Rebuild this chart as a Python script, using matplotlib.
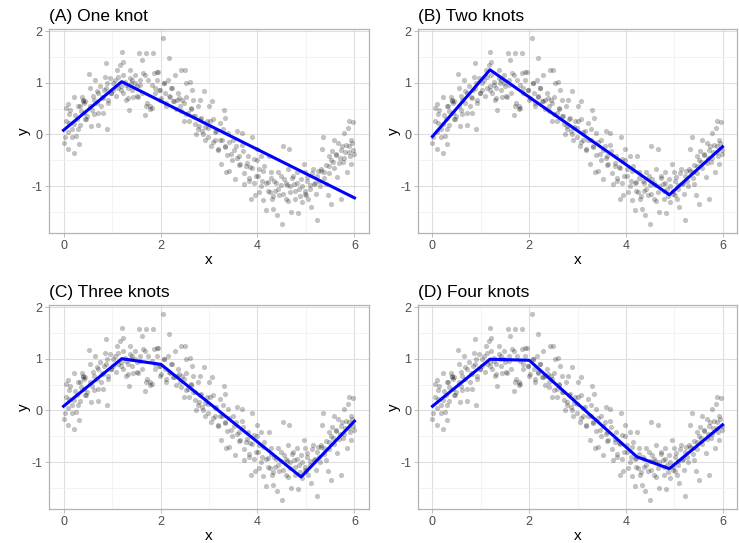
import matplotlib

matplotlib.use("Agg")
import matplotlib.pyplot as plt
from matplotlib.ticker import MultipleLocator

plt.rcParams["font.family"] = ["Liberation Sans", "DejaVu Sans"]
plt.rcParams["axes.unicode_minus"] = False

x_obs = [
    0.00, 0.02, 0.05, 0.09, 0.10, 0.12, 0.14, 0.17, 0.21, 0.22, 0.24, 0.26, 0.29, 0.31, 0.33, 0.34, 0.38, 0.41, 0.42, 0.45, 0.47, 0.49,
    0.53, 0.55, 0.56, 0.58, 0.62, 0.65, 0.68, 0.71, 0.72, 0.75, 0.79, 0.81, 0.84, 0.86, 0.88, 0.89, 0.90, 0.92, 0.96, 0.98,
    1.03, 1.06, 1.10, 1.13, 1.16, 1.18, 1.20, 1.22, 1.23, 1.27, 1.29, 1.32, 1.34, 1.37, 1.39, 1.42, 1.44, 1.47,
    1.51, 1.54, 1.56, 1.58, 1.61, 1.64, 1.68, 1.70, 1.71, 1.75, 1.78, 1.82, 1.85, 1.86, 1.88, 1.92, 1.95, 1.97, 1.99,
    2.05, 2.07, 2.09, 2.12, 2.16, 2.18, 2.19, 2.23, 2.26, 2.29, 2.33, 2.36, 2.40, 2.43, 2.45, 2.48, 2.50,
    2.52, 2.53, 2.57, 2.60, 2.62, 2.64, 2.67, 2.71, 2.74, 2.77, 2.79, 2.81, 2.84, 2.86, 2.89, 2.91, 2.95, 2.98,
    3.01, 3.05, 3.07, 3.08, 3.12, 3.15, 3.18, 3.22, 3.25, 3.27, 3.30, 3.32, 3.34, 3.36, 3.39, 3.42, 3.46, 3.49,
    3.53, 3.56, 3.58, 3.62, 3.64, 3.68, 3.70, 3.73, 3.77, 3.80, 3.82, 3.85, 3.87, 3.89, 3.92, 3.94, 3.97, 3.99,
    4.03, 4.04, 4.08, 4.10, 4.12, 4.14, 4.18, 4.21, 4.23, 4.26, 4.28, 4.30, 4.33, 4.35, 4.37, 4.40, 4.42, 4.45, 4.49,
    4.51, 4.52, 4.55, 4.58, 4.60, 4.62, 4.66, 4.67, 4.69, 4.73, 4.76, 4.78, 4.81, 4.83, 4.86, 4.90, 4.92, 4.95, 4.97, 4.99,
    5.01, 5.03, 5.05, 5.08, 5.10, 5.14, 5.17, 5.21, 5.22, 5.24, 5.27, 5.31, 5.33, 5.36, 5.38, 5.41, 5.45, 5.47, 5.48,
    5.51, 5.53, 5.56, 5.58, 5.62, 5.65, 5.67, 5.70, 5.72, 5.74, 5.77, 5.79, 5.81, 5.84, 5.86, 5.88, 5.89, 5.90, 5.92, 5.95, 5.97, 5.99,
    0.05, 0.10, 0.12, 0.18, 0.22, 0.28, 0.30, 0.35, 0.40, 0.42, 0.45, 0.55, 0.60, 0.62, 0.68, 0.72, 0.78, 0.82, 0.88, 0.92,
    0.98, 1.02, 1.08, 1.12, 1.18, 1.22, 1.28, 1.32, 1.38, 1.42, 1.48, 1.52, 1.58, 1.62, 1.68, 1.72, 1.78, 1.82, 1.88, 1.92,
    1.98, 2.02, 2.08, 2.12, 2.18, 2.22, 2.28, 2.32, 2.38, 2.42, 2.48, 2.52, 2.58, 2.62, 2.68, 2.72, 2.78, 2.82, 2.88, 2.92,
    2.98, 3.02, 3.08, 3.12, 3.18, 3.22, 3.28, 3.32, 3.38, 3.42, 3.48, 3.52, 3.58, 3.62, 3.68, 3.72, 3.78, 3.82, 3.88, 3.92,
    3.98, 4.02, 4.08, 4.12, 4.18, 4.22, 4.28, 4.32, 4.38, 4.42, 4.48, 4.52, 4.58, 4.62, 4.68, 4.72, 4.78, 4.82, 4.88, 4.92,
    4.98, 5.02, 5.08, 5.12, 5.18, 5.22, 5.28, 5.32, 5.38, 5.42, 5.48, 5.52, 5.58, 5.62, 5.68, 5.72, 5.78, 5.82, 5.88, 5.92, 5.98,
]
y_obs = [
    -0.16, -0.05, 0.51, 0.58, -0.29, 0.22, 0.48, 0.10, 0.72, -0.37, 0.38, -0.03, 0.11, -0.19, 0.54, 0.19, 0.73, 0.67, 0.42, 0.64, 0.29, 0.35,
    1.17, 0.89, 0.16, 0.48, 0.67, 1.05, 0.83, 0.19, 0.42, 0.93, 0.73, 0.42, 0.86, 1.12, 1.39, 0.10, 0.99, 0.67, 1.09, 0.80,
    0.86, 1.05, 1.25, 1.12, 1.34, 0.93, 1.60, 1.41, 0.80, 1.02, 0.67, 0.89, 0.48, 1.25, 0.99, 1.05, 0.73, 1.15,
    0.93, 0.73, 1.57, 1.05, 1.44, 1.18, 0.38, 1.57, 0.54, 1.05, 0.54, 0.51, 1.58, 1.18, 0.89, 1.05, 1.21, 0.86, 0.67,
    1.87, 0.99, 0.80, 0.54, 1.05, 1.47, 0.73, 0.89, 0.64, 1.15, 0.67, 0.80, 0.54, 1.25, 0.67, 0.26, 1.25,
    0.73, 0.99, 0.42, 1.02, 0.51, 0.86, 0.67, 0.35, 0.00, 0.54, 0.16, 0.67, 0.32, 0.06, 0.83, -0.10, 0.26, 0.13,
    0.54, -0.22, 0.64, 0.29, -0.10, 0.06, -0.29, 0.22, -0.58, -0.10, 0.48, -0.22, 0.32, -0.73, 0.03, -0.70, -0.38, -0.10,
    -0.86, -0.22, 0.06, -0.42, -0.58, 0.03, -0.32, -0.96, -0.61, -0.42, -0.90, -0.64, -1.25, -0.06, -0.48, -1.18, -0.80, -0.29,
    -0.67, -1.12, -0.42, -0.90, -1.28, -0.61, -1.47, -0.93, -0.42, -1.12, -0.73, -1.25, -1.44, -0.90, -1.09, -1.57, -0.73, -1.18, -0.99,
    -1.73, -0.22, -0.86, -1.25, -0.99, -0.67, -0.29, -1.12, -1.50, -0.80, -0.96, -1.25, -0.73, -1.53, -1.05, -0.86, -1.31, -0.58, -1.09, -0.73,
    -1.18, -0.83, -1.25, -0.99, -1.41, -0.67, -0.96, -1.15, -1.66, -0.70, -0.90, -0.67, -0.29, -0.06, -0.73, -0.96, -1.18, -0.42, -0.61,
    -1.34, -0.32, -0.54, -0.10, -0.38, -0.83, -0.16, -0.45, -1.25, -0.22, -0.54, 0.03, -0.35, -0.73, 0.13, -0.22, 0.26, -0.42, -0.58, -0.16, 0.24, -0.38,
    0.25, 0.05, 0.40, -0.05, 0.20, 0.30, 0.55, 0.45, 0.65, 0.60, 0.30, 0.55, 0.75, 0.40, 0.60, 0.80, 0.55, 0.70, 0.90, 0.60,
    0.80, 1.00, 0.75, 0.90, 0.85, 1.15, 0.95, 0.70, 1.10, 0.85, 1.00, 0.75, 0.95, 0.80, 1.15, 0.60, 0.50, 0.95, 0.80, 1.20,
    0.85, 0.70, 1.00, 0.60, 0.75, 0.90, 0.65, 0.50, 0.70, 0.45, 0.60, 0.40, 0.25, 0.50, 0.35, 0.20, 0.10, 0.30, 0.00, 0.15,
    -0.05, 0.25, -0.15, 0.05, -0.30, -0.10, 0.10, -0.25, -0.40, -0.15, -0.50, -0.30, -0.45, -0.60, -0.20, -0.75, -0.55, -0.85, -0.65, -0.95,
    -0.50, -0.80, -1.00, -0.70, -0.95, -1.10, -0.85, -1.20, -0.95, -1.05, -0.80, -1.15, -0.95, -1.30, -1.00, -0.85, -1.10, -0.95, -1.20, -1.00,
    -1.15, -0.90, -1.05, -0.75, -0.95, -0.80, -1.00, -0.70, -0.85, -0.60, -0.75, -0.50, -0.65, -0.40, -0.55, -0.30, -0.45, -0.20, -0.35, -0.10, -0.30,
]

# piecewise linear fits (knot positions and fitted values)
fit_x_a = [0, 1.2, 6]
fit_y_a = [0.08, 1.02, -1.23]
fit_x_b = [0, 1.19, 4.9, 6]
fit_y_b = [-0.04, 1.25, -1.17, -0.24]
fit_x_c = [0, 1.2, 2.01, 4.9, 6]
fit_y_c = [0.08, 1.0, 0.89, -1.29, -0.21]
fit_x_d = [0, 1.19, 2.0, 4.23, 4.9, 6]
fit_y_d = [0.08, 0.99, 0.97, -0.9, -1.13, -0.28]

titles = ["(A) One knot", "(B) Two knots", "(C) Three knots", "(D) Four knots"]

W, H = 739, 543
fig = plt.figure(figsize=(W / 100, H / 100), dpi=100)

# panel rectangles in pixels: left, top, right, bottom
rects = [(49, 29, 369, 233), (418, 29, 737, 233), (49, 305, 369, 509), (418, 305, 737, 509)]
fits = [(fit_x_a, fit_y_a), (fit_x_b, fit_y_b), (fit_x_c, fit_y_c), (fit_x_d, fit_y_d)]

for (l, t, r, b), (fx, fy), title in zip(rects, fits, titles):
    ax = fig.add_axes([l / W, (H - b) / H, (r - l) / W, (b - t) / H])
    ax.scatter(x_obs, y_obs, s=14, color="black", alpha=0.24, linewidths=0, zorder=2)
    ax.plot(fx, fy, color="blue", linewidth=2.2, zorder=3)

    ax.set_xlim(-0.3, 6.3)
    ax.set_ylim(-1.91, 2.04)
    ax.xaxis.set_major_locator(MultipleLocator(2))
    ax.xaxis.set_minor_locator(MultipleLocator(1))
    ax.yaxis.set_major_locator(MultipleLocator(1))
    ax.yaxis.set_minor_locator(MultipleLocator(0.5))
    ax.grid(which="major", color="#dedede", linewidth=0.8, zorder=0)
    ax.grid(which="minor", color="#efefef", linewidth=0.5, zorder=0)
    ax.set_axisbelow(True)
    for sp in ax.spines.values():
        sp.set_color("#b3b3b3")
        sp.set_linewidth(0.9)
    ax.tick_params(which="major", length=3, width=0.6, color="#b3b3b3", labelcolor="#4d4d4d", labelsize=9, pad=2)
    ax.tick_params(which="minor", length=0)
    ax.set_xlabel("x", fontsize=11)
    ax.set_ylabel("y", fontsize=11)
    ax.xaxis.set_label_coords(0.5, -0.1)
    ax.yaxis.set_label_coords(-0.055, 0.5)
    ax.set_title(title, loc="left", fontsize=12.5, pad=5.5)

fig.savefig("out.png", dpi=100)
